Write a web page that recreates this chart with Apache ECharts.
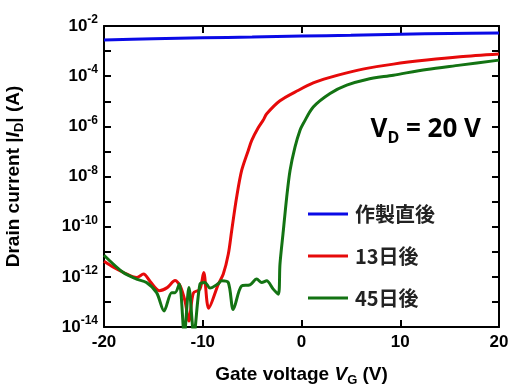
<!DOCTYPE html>
<html>
<head>
<meta charset="utf-8">
<script src="https://cdn.jsdelivr.net/npm/echarts@6/dist/echarts.min.js"></script>
<style>
  html, body { margin: 0; padding: 0; background: #fff; }
  #chart { width: 511px; height: 387px; }
</style>
</head>
<body>
<div id="chart"></div>
<script>
// gate voltage (V) and log10 of drain current |I_D| (A)
const names = ['作製直後', '13日後', '45日後']
const colors = ['#0a0ae6', '#e60a0a', '#137313']

const vgBlue = [-20, -15, -10, -5, 0, 5, 10, 15, 20]
const logBlue = [-2.56, -2.51, -2.47, -2.44, -2.40, -2.37, -2.33, -2.30, -2.28]

const vgRed = [-20, -19, -18, -16.7, -16, -15.3, -14.4, -13.6, -12.8, -12.3, -11.8, -11.4, -10.96, -10.3, -9.9, -9.4, -8.42, -7.92, -7.41, -7.07, -6.57, -6.06, -5.39, -5.04, -4.37, -3.87, -3.52, -2.18, -0.3, 1.19, 2.89, 4.58, 6.6, 9.3, 12.68, 16.05, 20]
const logRed = [-11.38, -11.63, -11.83, -12.03, -11.89, -12.2, -12.55, -12.43, -12.15, -12.35, -12.96, -13.76, -12.65, -12.5, -11.83, -13.25, -12.29, -11.89, -11.09, -10.16, -8.83, -7.76, -6.96, -6.56, -6.05, -5.75, -5.5, -4.98, -4.56, -4.27, -4.05, -3.87, -3.69, -3.52, -3.36, -3.23, -3.12]

const vgGreen = [-20, -18.05, -16.7, -15.7, -14.67, -13.92, -13.15, -12.8, -12.37, -11.87, -11.4, -10.9, -10.28, -9.77, -9.27, -8.42, -8.08, -7.41, -6.91, -6.06, -5.22, -4.54, -4.03, -3.53, -2.86, -2.35, -2.18, -1.84, -1.5, -1.16, -0.66, -0.15, 0.18, 1.19, 2.89, 4.58, 6.6, 9.3, 12.68, 16.05, 20]
const logGreen = [-11.14, -11.83, -12.09, -12.23, -12.63, -13.36, -12.63, -12.63, -12.29, -14.3, -12.43, -14.3, -12.29, -12.23, -12.45, -12.27, -12.16, -12.23, -13.3, -12.36, -12.32, -12.09, -12.23, -12.16, -12.49, -12.69, -11.49, -10.16, -8.83, -7.76, -6.83, -6.16, -5.89, -5.23, -4.69, -4.36, -4.13, -3.96, -3.73, -3.56, -3.36]

const xTicks = [-20, 20, 10]   // min, max, interval
const yTicks = [-14, -2, 1]

const pairs = (xs, ys) => xs.map((x, i) => [x, ys[i]])
const curves = [pairs(vgBlue, logBlue), pairs(vgRed, logRed), pairs(vgGreen, logGreen)]

const font = 'Liberation Sans'
const axisLine = { show: true, onZero: false, lineStyle: { color: '#000', width: 2 } }
const tick = { show: true, inside: true, length: 7, lineStyle: { color: '#000', width: 2 } }

const chart = echarts.init(document.getElementById('chart'))
chart.setOption({
  animation: false,
  grid: { left: 104, right: 12, top: 26, bottom: 60, outerBoundsMode: 'none', containLabel: false },
  legend: {
    orient: 'vertical',
    left: 303,
    top: 199,
    icon: 'rect',
    itemWidth: 40,
    itemHeight: 3,
    itemGap: 22,
    data: names,
    textStyle: { fontFamily: 'Noto Sans CJK JP', fontSize: 20, fontWeight: 'bold', color: '#222', padding: [0, 0, 0, 2] },
  },
  graphic: [{
    type: 'text',
    right: 30,
    top: 117,
    style: {
      text: '{v|V}{s|D}{v| = 20 V}',
      rich: {
        v: { fontFamily: 'Open Sans', fontWeight: 'bold', fontSize: 26, lineHeight: 32, fill: '#000' },
        s: { fontFamily: 'Open Sans', fontWeight: 'bold', fontSize: 16, lineHeight: 16, verticalAlign: 'bottom', fill: '#000' },
      },
    },
  }],
  xAxis: [{
    type: 'value',
    min: xTicks[0], max: xTicks[1], interval: xTicks[2],
    axisLine, axisTick: tick, splitLine: { show: false },
    axisLabel: { margin: 7, color: '#000', fontFamily: font, fontWeight: 'bold', fontSize: 17 },
    name: 'Gate voltage {i|V}{s|G} (V)',
    nameLocation: 'middle',
    nameGap: 36,
    nameTextStyle: {
      fontFamily: font, fontWeight: 'bold', fontSize: 19, color: '#000', lineHeight: 24,
      rich: {
        i: { fontFamily: font, fontWeight: 'bold', fontStyle: 'italic', fontSize: 19, lineHeight: 24, color: '#000' },
        s: { fontFamily: font, fontWeight: 'bold', fontSize: 13, lineHeight: 13, verticalAlign: 'bottom', color: '#000' },
      },
    },
  }, {
    type: 'value', position: 'top',
    min: xTicks[0], max: xTicks[1], interval: xTicks[2],
    axisLine, axisTick: tick, axisLabel: { show: false }, splitLine: { show: false },
  }],
  yAxis: [{
    type: 'value',
    min: yTicks[0], max: yTicks[1], interval: yTicks[2],
    axisLine, axisTick: tick, splitLine: { show: false },
    axisLabel: {
      margin: 6,
      formatter: (v) => (v % 2 === 0 ? '{b|10}{p|' + v + '}' : ''),
      rich: {
        b: { fontFamily: font, fontWeight: 'bold', fontSize: 17, lineHeight: 24, color: '#000' },
        p: { fontFamily: font, fontWeight: 'bold', fontSize: 12, lineHeight: 12, verticalAlign: 'top', color: '#000' },
      },
    },
    name: 'Drain current |{i|I}{s|D}| (A)',
    nameLocation: 'middle',
    nameGap: 78,
    nameRotate: 90,
    nameTextStyle: {
      fontFamily: font, fontWeight: 'bold', fontSize: 19, color: '#000', lineHeight: 24,
      rich: {
        i: { fontFamily: font, fontWeight: 'bold', fontStyle: 'italic', fontSize: 19, lineHeight: 24, color: '#000' },
        s: { fontFamily: font, fontWeight: 'bold', fontSize: 13, lineHeight: 13, verticalAlign: 'bottom', color: '#000' },
      },
    },
  }, {
    type: 'value', position: 'right',
    min: yTicks[0], max: yTicks[1], interval: yTicks[2],
    axisLine, axisTick: tick, axisLabel: { show: false }, splitLine: { show: false },
  }],
  series: names.map((n, i) => ({
    name: n,
    type: 'line',
    data: curves[i],
    showSymbol: false,
    smooth: 0.3,
    clip: true,
    color: colors[i],
    lineStyle: { width: 3, color: colors[i] },
  })),
})
</script>
</body>
</html>
